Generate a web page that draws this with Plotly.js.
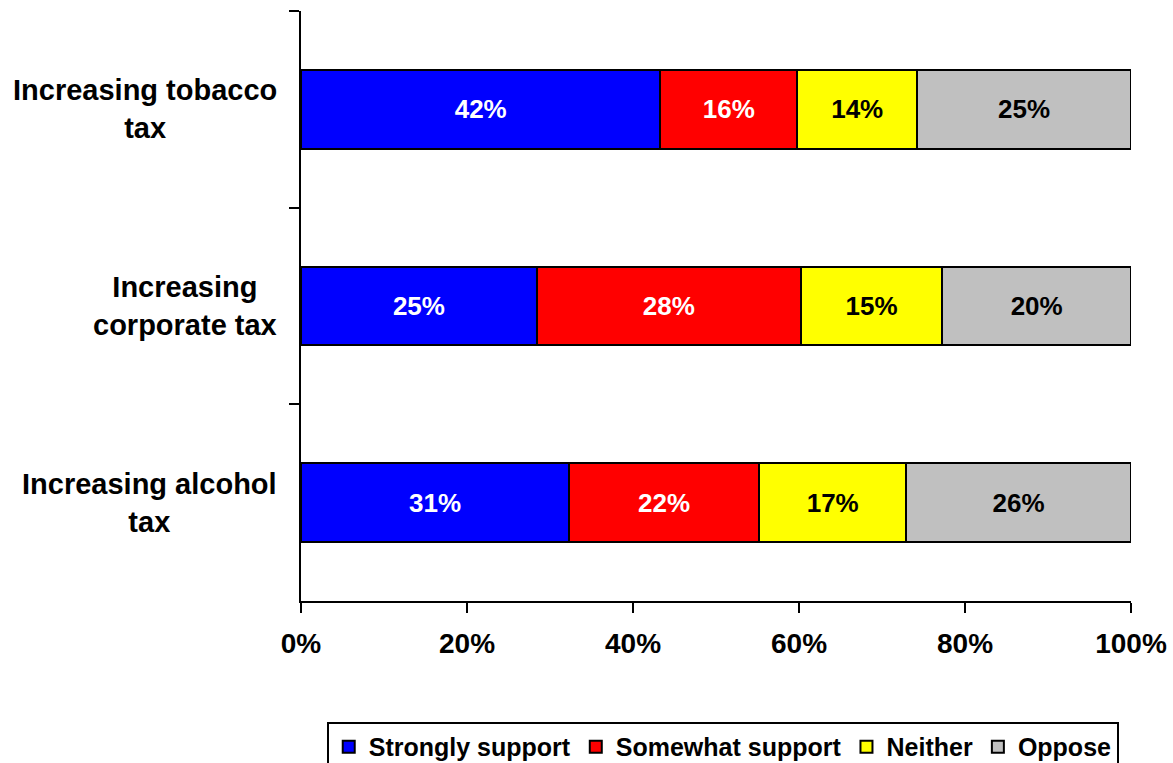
<!DOCTYPE html>
<html>
<head>
<meta charset="utf-8">
<script src="https://cdn.plot.ly/plotly-3.0.1.min.js"></script>
<style>html,body{margin:0;padding:0;background:#fff;}#chart{width:1173px;height:763px;}</style>
</head>
<body>
<div id="chart"></div>
<script>
const categories = ['Increasing tobacco<br>tax', 'Increasing<br>corporate tax', 'Increasing alcohol<br>tax'];
const seriesNames = ['Strongly support', 'Somewhat support', 'Neither', 'Oppose'];
const strongly = [42, 25, 31];
const somewhat = [16, 28, 22];
const neither = [14, 15, 17];
const oppose = [25, 20, 26];
const xTicks = [0, 20, 40, 60, 80, 100];

const FONT = 'Liberation Sans, Arial, sans-serif';
const colors = ['#0000FF', '#FF0000', '#FFFF00', '#C0C0C0'];
const textColors = ['#FFFFFF', '#FFFFFF', '#000000', '#000000'];
const values = [strongly, somewhat, neither, oppose];

const traces = values.map((v, i) => ({
  type: 'bar',
  orientation: 'h',
  name: seriesNames[i],
  y: categories,
  x: v,
  text: v.map(n => n + '%'),
  texttemplate: '%{text}',
  textposition: 'inside',
  insidetextanchor: 'middle',
  constraintext: 'none',
  textfont: {family: FONT, size: 26, weight: 'bold', color: textColors[i]},
  marker: {color: colors[i], line: {color: '#000000', width: 2}},
  hoverinfo: 'skip'
}));

const annotations = categories.map(c => ({
  xref: 'paper', yref: 'y', x: 0, y: c,
  xanchor: 'right', yanchor: 'middle', xshift: -22,
  align: 'center', showarrow: false, text: c,
  font: {family: FONT, size: 29, weight: 'bold', color: '#000000'}
}));

const layout = {
  width: 1173, height: 763,
  margin: {l: 301, r: 42, t: 11, b: 162, autoexpand: false},
  paper_bgcolor: '#ffffff', plot_bgcolor: '#ffffff',
  barmode: 'stack', barnorm: 'percent', bargap: 0.6,
  showlegend: true,
  legend: {
    orientation: 'h', x: 0.031, xanchor: 'left', y: -0.205, yanchor: 'top',
    bordercolor: '#000000', borderwidth: 2, bgcolor: '#ffffff',
    font: {family: FONT, size: 25, weight: 'bold', color: '#000000'},
    itemwidth: 30, traceorder: 'normal'
  },
  xaxis: {
    range: [0, 100], tickvals: xTicks, ticktext: xTicks.map(t => t + '%'),
    ticks: 'outside', ticklen: 10, tickwidth: 2, tickcolor: '#000000',
    ticklabelstandoff: 6,
    showline: true, linewidth: 2, linecolor: '#000000',
    showgrid: false, zeroline: false,
    tickfont: {family: FONT, size: 28, weight: 'bold', color: '#000000'}
  },
  yaxis: {
    type: 'category', categoryorder: 'array', categoryarray: categories,
    autorange: 'reversed', tickson: 'boundaries',
    ticks: 'outside', ticklen: 10, tickwidth: 2, tickcolor: '#000000',
    showline: true, linewidth: 2, linecolor: '#000000',
    showgrid: false, zeroline: false, showticklabels: false
  },
  annotations: annotations
};

Plotly.newPlot('chart', traces, layout, {displayModeBar: false, staticPlot: true});
</script>
</body>
</html>
